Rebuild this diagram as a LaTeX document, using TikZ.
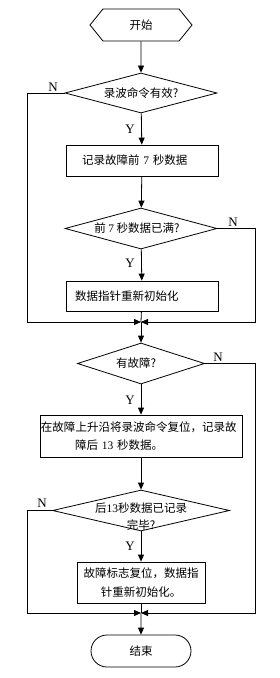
\documentclass[tikz,border=0pt]{standalone}
\usepackage{fontspec}
\setmainfont{Liberation Serif}
\newfontfamily\cjk{Noto Sans CJK SC}
\usetikzlibrary{shapes.geometric,shapes.symbols,shapes.misc,arrows.meta}
\begin{document}
\begin{tikzpicture}[x=1bp,y=-1bp,
  line/.style={line width=0.8bp, draw=black},
  arr/.style={line, -{Triangle[length=7bp,width=6bp]}},
  txt/.style={font=\cjk\fontsize{11.5bp}{18.5bp}\selectfont},
  yn/.style={font=\fontsize{13bp}{14bp}\selectfont, inner sep=0},
  box/.style={draw, line width=0.8bp, rectangle, inner ysep=0, txt},
  dia/.style={draw, diamond, line width=0.8bp, inner sep=0},
  term/.style={draw, line width=0.8bp, txt, inner sep=0}]
\useasboundingbox (0,0) rectangle (279,678);
% start
\node[term, signal, signal to=west and east, signal pointer angle=102,
      minimum width=102bp, minimum height=32bp] (start) at (141,25) {开始};
% decision 1
\node[dia, minimum width=152bp, minimum height=40bp] (d1) at (141,93) {};
\node[txt] (d1t) at (d1) {录波命令有效?};
% box 1
\node[box, minimum width=152bp, minimum height=31bp, text width=120bp, inner xsep=16bp, align=left] (b1) at (142,160.5) {记录故障前 \textrm{7} 秒数据};
% decision 2
\node[dia, minimum width=152bp, minimum height=41bp] (d2) at (141,228.5) {};
\node[txt] (d2t) at ([xshift=-4bp]d2) {前 \textrm{7} 秒数据已满?};
% box 2
\node[box, minimum width=152bp, minimum height=30bp, text width=134bp, inner xsep=9bp, align=left] (b2) at (142,296) {数据指针重新初始化};
% decision 3
\node[dia, minimum width=127bp, minimum height=41bp] (d3) at (141,363.5) {};
\node[txt] (d3t) at ([xshift=-5bp]d3) {有故障?};
% box 3
\node[box, minimum width=202bp, minimum height=42bp, text width=200bp, inner xsep=1bp, align=left] (b3) at (141,436) {在故障上升沿将录波命令复位，记录故\\\hspace*{34bp}障后 \textrm{13} 秒数据。};
% decision 4
\node[dia, minimum width=177bp, minimum height=41bp] (d4) at (141,510.5) {};
\node[txt, align=center, font=\cjk\fontsize{11.5bp}{17bp}\selectfont] (d4t) at ([yshift=-6bp]d4) {后\textrm{13}秒数据已记录\\完毕?};
% box 4
\node[box, minimum width=128bp, minimum height=41bp, text width=126bp, inner xsep=1bp, align=center] (b4) at (141,582.5) {故障标志复位，数据指\\针重新初始化。};
% end
\node[term, rounded rectangle, minimum width=100bp, minimum height=32bp] (end) at (141,651) {结束};
% merge points
\coordinate (m1) at (141,322);
\coordinate (cl1) at (27,322);
\coordinate (cr1) at (255,322);
\coordinate (m2) at (141,613);
\coordinate (cl2) at (27,613);
\coordinate (cr2) at (255,613);
% connectors
\draw[arr] (start) -- (d1);
\draw[arr] (d1) -- (b1);
\draw[arr] (b1) -- (d2);
\draw[arr] (d2) -- (b2);
\draw[line] (b2) -- (m1);
\draw[arr] (d1.west) -| (cl1) -- (m1);
\draw[arr] (d2.east) -| (cr1) -- (m1);
\draw[arr] (m1) -- (d3);
\draw[arr] (d3) -- (b3);
\draw[arr] (b3) -- (d4);
\draw[arr] (d4) -- (b4);
\draw[line] (b4) -- (m2);
\draw[arr] (d3.east) -| (cr2) -- (m2);
\draw[arr] (d4.west) -| (cl2) -- (m2);
\draw[arr] (m2) -- (end);
% labels
\node[yn] (y1) at (130,129) {Y};
\node[yn] (y2) at (130,263) {Y};
\node[yn] (y3) at (130,400) {Y};
\node[yn] (y4) at (130,546) {Y};
\node[yn] (n1) at (53,87) {N};
\node[yn] (n2) at (233,222) {N};
\node[yn] (n3) at (218,357) {N};
\node[yn] (n4) at (42,503) {N};
\end{tikzpicture}
\end{document}
